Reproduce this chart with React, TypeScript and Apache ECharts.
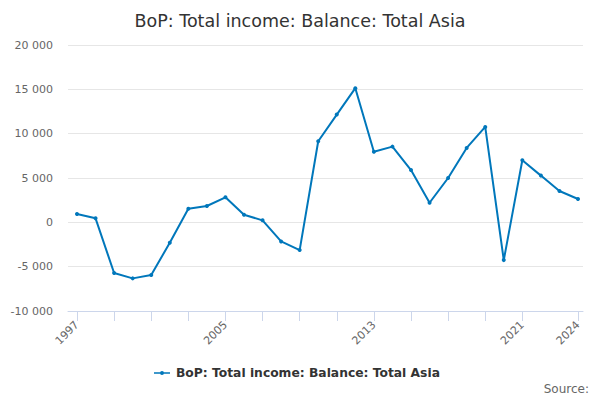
import React, { useEffect, useRef } from "react";
import * as echarts from "echarts";

const years: string[] = [
  "1997", "1998", "1999", "2000", "2001", "2002", "2003", "2004", "2005", "2006",
  "2007", "2008", "2009", "2010", "2011", "2012", "2013", "2014", "2015", "2016",
  "2017", "2018", "2019", "2020", "2021", "2022", "2023", "2024",
];
const balance: number[] = [
  950, 450, -5720, -6320, -5950, -2300, 1540, 1840, 2820, 860,
  225, -2150, -3130, 9140, 12150, 15130, 7970, 8540, 5900, 2210,
  5000, 8390, 10760, -4260, 7000, 5270, 3530, 2630,
];
const labelYears: string[] = ["1997", "2005", "2013", "2021", "2024"];
const seriesName = "BoP: Total income: Balance: Total Asia";
const yMin = -10000;
const yMax = 20000;
const yStep = 5000;

const FONT = "DejaVu Sans";

function fmt(v: number): string {
  const s = Math.abs(v).toString().replace(/\B(?=(\d{3})+(?!\d))/g, " ");
  return (v < 0 ? "-" : "") + s;
}

export default function App() {
  const ref = useRef<HTMLDivElement>(null);
  useEffect(() => {
    if (!ref.current) return;
    const chart = echarts.init(ref.current, null, { renderer: "svg" });
    const lastIdx = years.length - 1;
    chart.setOption({
      animation: false,
      backgroundColor: "#ffffff",
      textStyle: { fontFamily: FONT },
      title: {
        text: "BoP: Total income: Balance: Total Asia",
        left: "center",
        top: 7,
        textStyle: { fontFamily: FONT, fontSize: 17.5, fontWeight: "normal", color: "#333333" },
      },
      legend: {
        data: [{ name: seriesName, icon: "path://M0,3.25 L16,3.25 L16,4.75 L0,4.75 Z M6,4 A2,2 0 1 1 10,4 A2,2 0 1 1 6,4 Z" }],
        bottom: 16,
        left: 149,
        itemWidth: 16,
        itemHeight: 8,
        itemGap: 4,
        textStyle: { fontFamily: FONT, fontSize: 12.3, fontWeight: "bold", color: "#333333", padding: [0, 0, 0, 1] },
      },
      graphic: [
        {
          type: "text",
          right: 11,
          bottom: 5,
          style: { text: "Source:", fontFamily: FONT, fontSize: 12, fill: "#666666" },
        },
      ],
      grid: [
        { left: 68, right: 17, top: 45, bottom: 89 },
        { left: 77, right: 22, top: 45, bottom: 89 },
      ],
      xAxis: [
        {
          type: "value",
          gridIndex: 0,
          min: 0,
          max: 1,
          axisLine: { show: true, onZero: false, lineStyle: { color: "#ccd6eb" } },
          axisTick: { show: false },
          axisLabel: { show: false },
          splitLine: { show: false },
        },
        {
          type: "category",
          gridIndex: 1,
          data: years,
          boundaryGap: false,
          axisLine: { show: false, onZero: false },
          axisTick: {
            show: true,
            length: 10,
            lineStyle: { color: "#ccd6eb" },
            interval: (i: number) => (i % 2 === 0 && i <= 24) || i === lastIdx,
          },
          axisLabel: {
            interval: (i: number, v: string) => labelYears.indexOf(v) >= 0,
            rotate: 45,
            margin: 12,
            fontFamily: FONT,
            fontSize: 11,
            color: "#666666",
          },
          splitLine: { show: false },
        },
      ],
      yAxis: [
        {
          type: "value",
          gridIndex: 0,
          min: yMin,
          max: yMax,
          interval: yStep,
          axisLine: { show: false },
          axisTick: { show: false },
          axisLabel: {
            margin: 15,
            fontFamily: FONT,
            fontSize: 11,
            color: "#666666",
            formatter: (v: number) => fmt(v),
          },
          splitLine: { show: true, lineStyle: { color: "#e6e6e6", width: 1 } },
        },
        {
          type: "value",
          gridIndex: 1,
          min: yMin,
          max: yMax,
          interval: yStep,
          show: false,
          splitLine: { show: false },
        },
      ],
      series: [
        {
          name: seriesName,
          type: "line",
          xAxisIndex: 1,
          yAxisIndex: 1,
          data: balance,
          symbol: "circle",
          symbolSize: 4,
          showSymbol: true,
          itemStyle: { color: "#0077bb" },
          lineStyle: { color: "#0077bb", width: 2 },
          emphasis: { disabled: true },
        },
      ],
    });
    return () => chart.dispose();
  }, []);
  return (
    <div
      ref={ref}
      style={{ position: "absolute", left: 0, top: 0, width: 600, height: 400 }}
    />
  );
}
